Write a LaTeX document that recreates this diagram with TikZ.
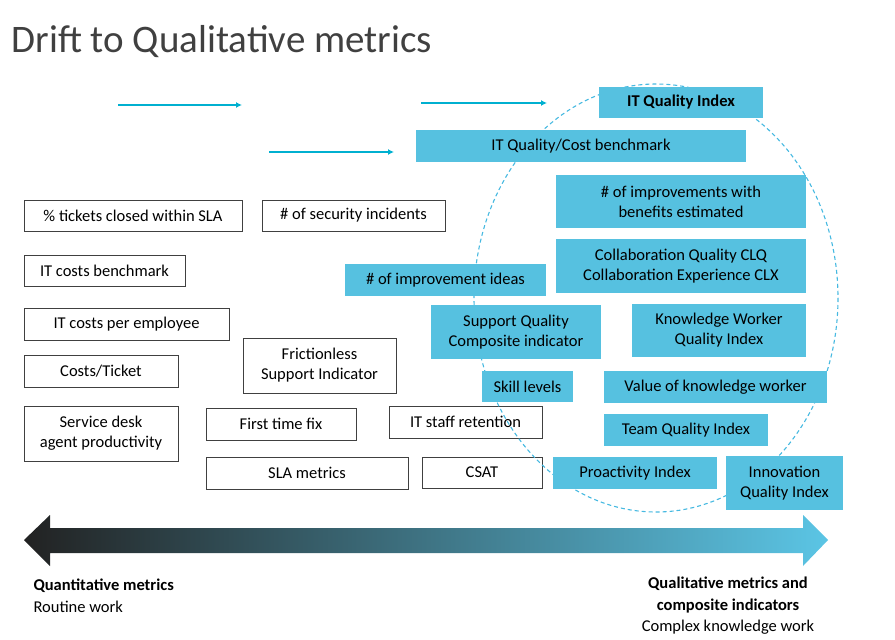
\documentclass[tikz,border=0pt]{standalone}
\usepackage{fontspec}
\setmainfont{Carlito}
\usetikzlibrary{arrows.meta}
\begin{document}
\begin{tikzpicture}[x=1pt,y=-1pt,
 wb/.style={draw=black!75,line width=0.8pt,fill=white,align=center,font=\fontsize{16.5}{20}\selectfont,inner sep=0pt},
 bb/.style={fill={rgb,255:red,86;green,193;blue,224},align=center,font=\fontsize{16.5}{20}\selectfont,inner sep=0pt},
 ar/.style={draw={rgb,255:red,0;green,176;blue,208},line width=2pt,-{Latex[length=6pt,width=6pt]}}]
\useasboundingbox (0,0) rectangle (895,640);
\node[anchor=west,font=\fontsize{39}{44}\selectfont,text={rgb,255:red,64;green,64;blue,64}] (title) at (8,42) {Drift to Qualitative metrics};
\newcommand\bx[6]{\node[#1,minimum width={#4-#2},minimum height={#5-#3}] (#6) at ({(#2+#4)/2},{(#3+#5)/2})}
\bx{wb}{24}{200}{242}{231}{a1}{\% tickets closed within SLA};
\bx{wb}{262}{200}{445}{231}{a2}{\# of security incidents};
\bx{wb}{24}{255}{185}{286}{a3}{IT costs benchmark};
\bx{wb}{24}{308}{229}{340}{a4}{IT costs per employee};
\bx{wb}{24}{355}{178}{387}{a5}{Costs/Ticket};
\bx{wb}{24}{406}{178}{461}{a6}{Service desk\\agent productivity};
\bx{wb}{243}{338}{396}{393}{a7}{Frictionless\\Support Indicator};
\bx{wb}{206}{408}{356}{440}{a8}{First time fix};
\bx{wb}{389}{406}{542}{438}{a9}{IT staff retention};
\bx{wb}{206}{457}{408}{489}{a10}{SLA metrics};
\bx{wb}{422}{457}{542}{488}{a11}{CSAT};
\draw[dash pattern=on 4pt off 3pt,draw={rgb,255:red,70;green,185;blue,225},line width=1.1pt] (656,298) ellipse [x radius=182,y radius=214];
\bx{bb}{599}{87}{763}{118}{b1}{\textbf{IT Quality Index}};
\bx{bb}{416}{130}{746}{162}{b2}{IT Quality/Cost benchmark};
\bx{bb}{556}{175}{806}{228}{b3}{\# of improvements with\\benefits estimated};
\bx{bb}{556}{239}{806}{293}{b4}{Collaboration Quality CLQ\\Collaboration Experience CLX};
\bx{bb}{345}{264}{546}{296}{b5}{\# of improvement ideas};
\bx{bb}{431}{305}{601}{359}{b6}{Support Quality\\Composite indicator};
\bx{bb}{632}{304}{806}{357}{b7}{Knowledge Worker\\Quality Index};
\bx{bb}{482}{371}{573}{402}{b8}{Skill levels};
\bx{bb}{604}{371}{827}{403}{b9}{Value of knowledge worker};
\bx{bb}{604}{414}{768}{446}{b10}{Team Quality Index};
\bx{bb}{553}{457}{717}{489}{b11}{Proactivity Index};
\bx{bb}{726}{456}{843}{510}{b12}{Innovation\\Quality Index};
\coordinate (s1) at (118,105); \coordinate (e1) at (242,105);
\coordinate (s2) at (421,103); \coordinate (e2) at (547,103);
\coordinate (s3) at (269,152); \coordinate (e3) at (394,152);
\draw[ar] (s1)--(e1); \draw[ar] (s2)--(e2); \draw[ar] (s3)--(e3);
\shade[left color={rgb,255:red,34;green,34;blue,34},right color={rgb,255:red,91;green,197;blue,229}]
 (24,540)--(50,515)--(50,528)--(803,528)--(803,515)--(828,540)--(803,566)--(803,553)--(50,553)--(50,566)--cycle;
\node[anchor=west,align=left,font=\fontsize{16.5}{22}\selectfont] (ql) at (30,596) {\textbf{Quantitative metrics}\\Routine work};
\node[align=center,font=\fontsize{16.5}{21.5}\selectfont] (qr) at (728,606) {\textbf{Qualitative metrics and}\\\textbf{composite indicators}\\Complex knowledge work};
\end{tikzpicture}
\end{document}
